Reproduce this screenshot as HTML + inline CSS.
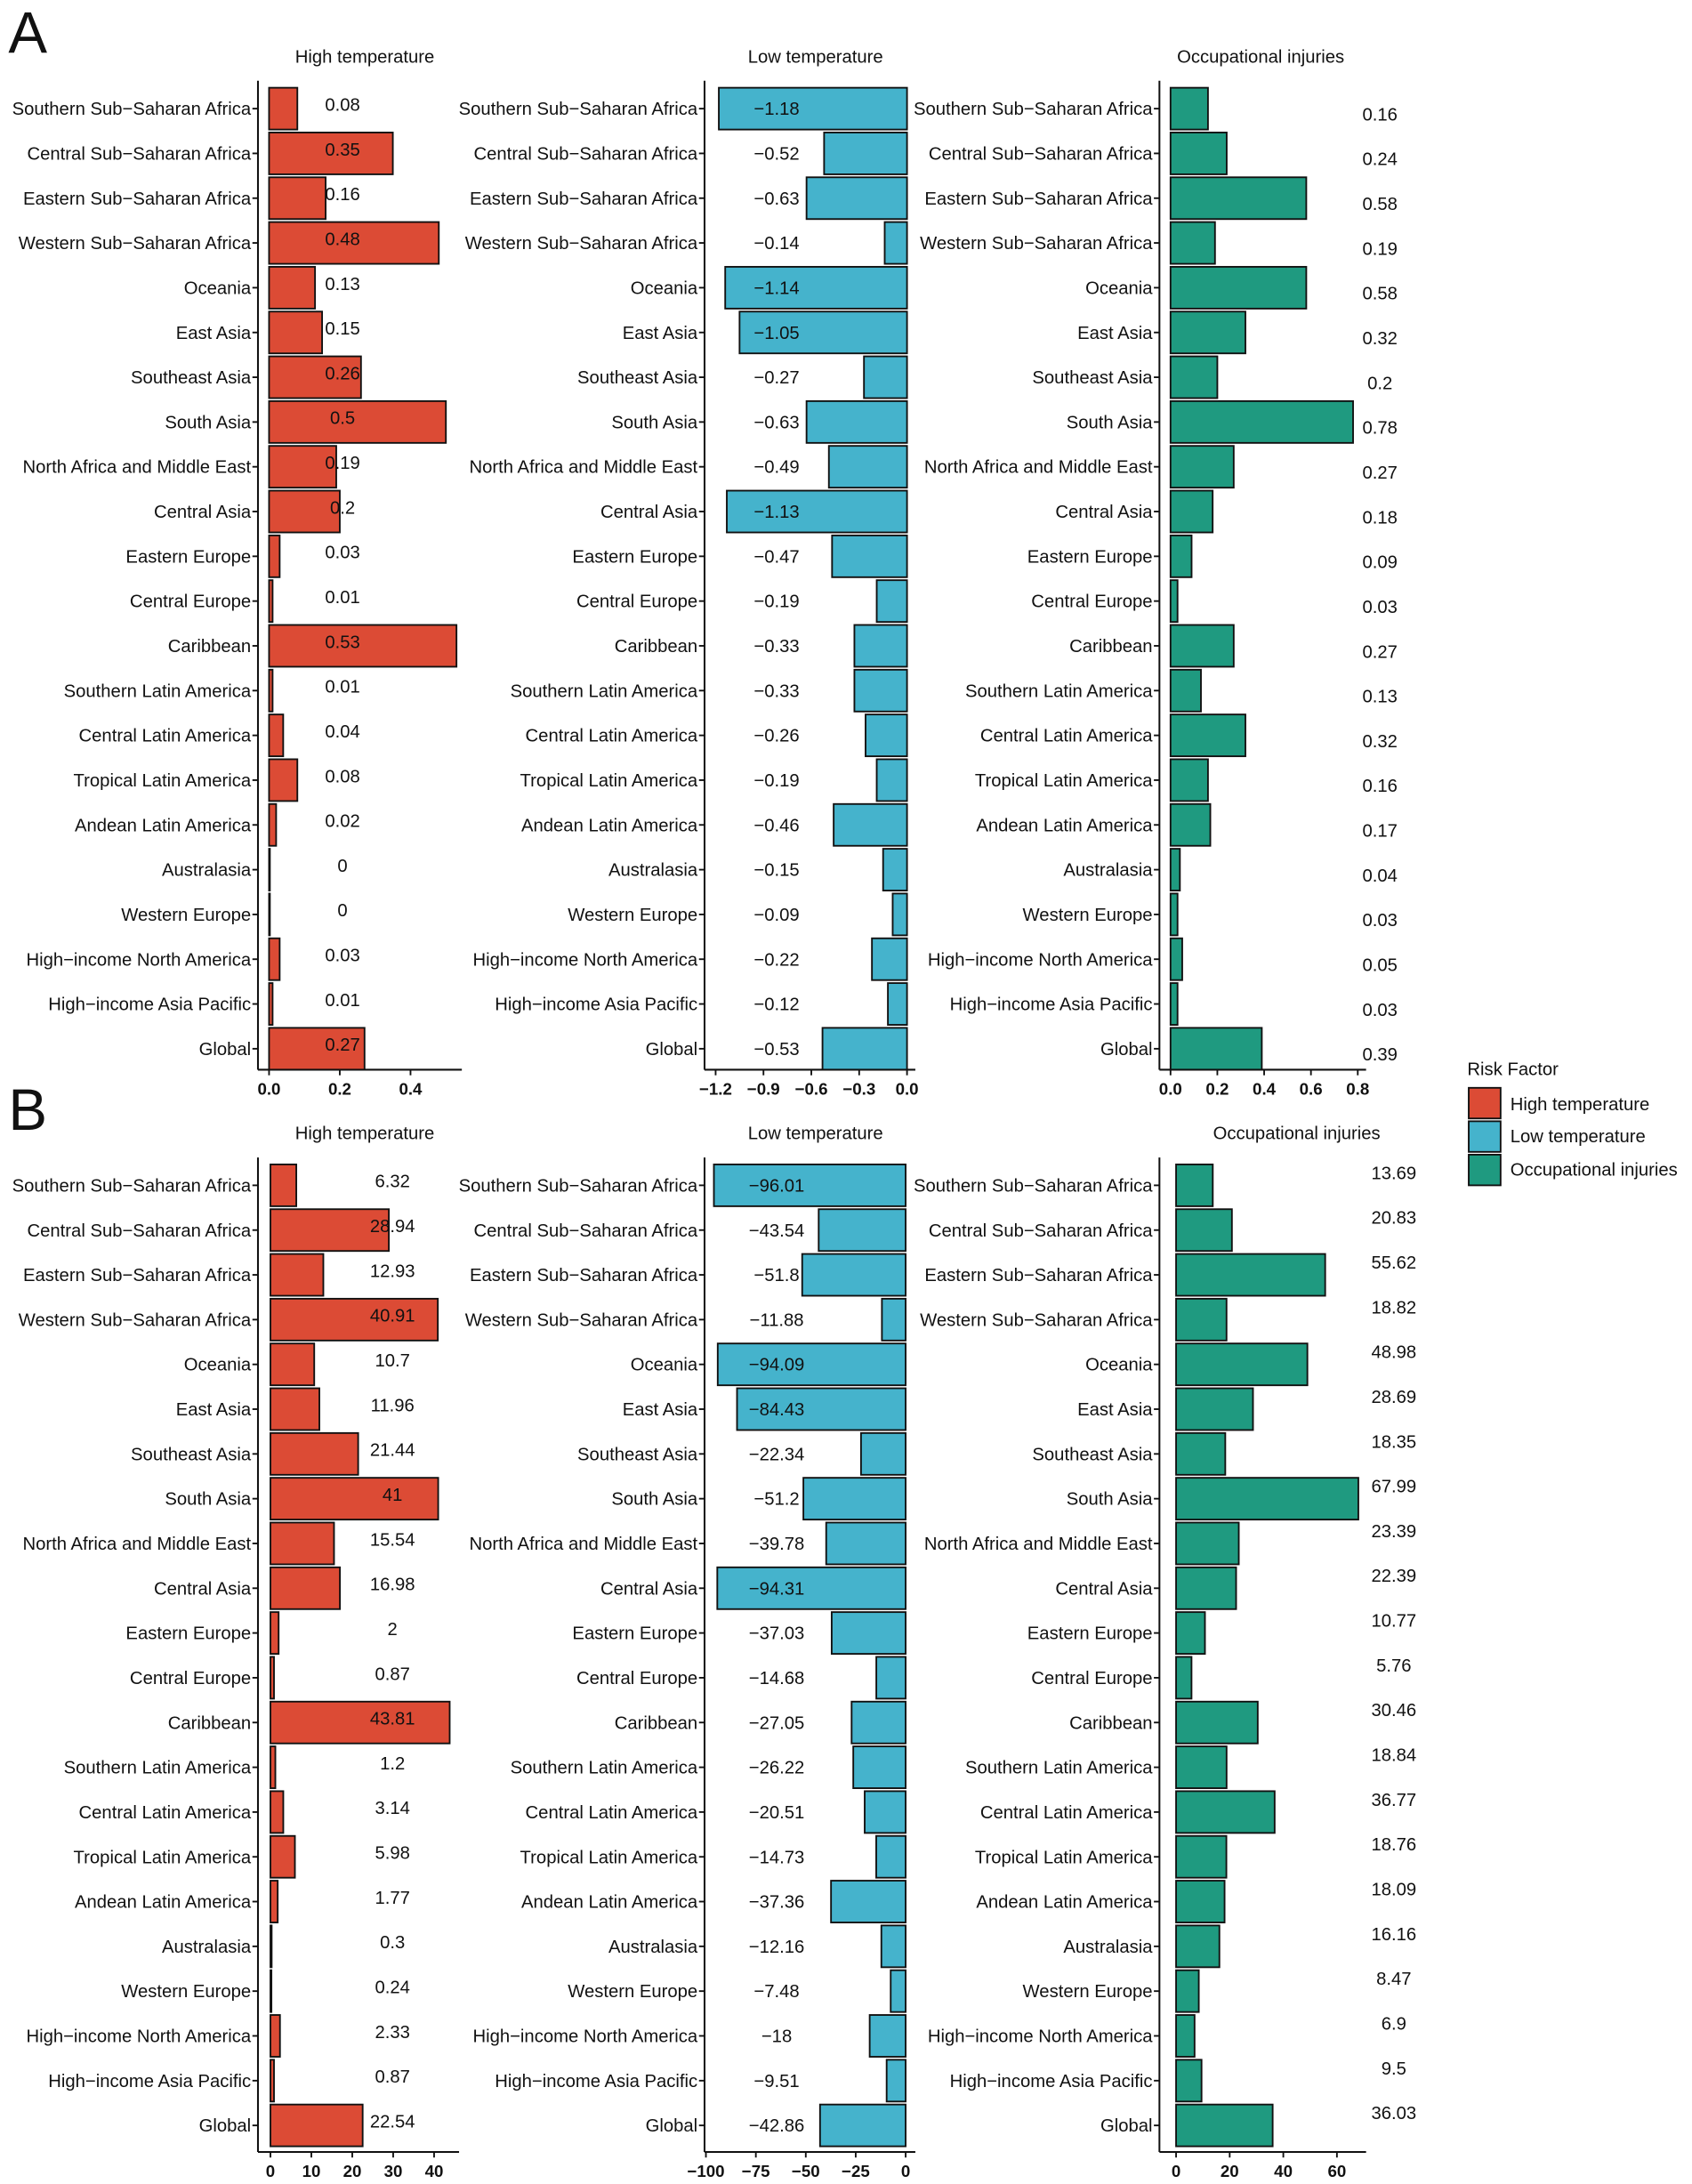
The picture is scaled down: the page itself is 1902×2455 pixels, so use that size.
<!DOCTYPE html>
<html><head><meta charset="utf-8"><style>
html,body{margin:0;padding:0;background:#fff;}
svg{display:block;}
text{font-family:"Liberation Sans",Arial,sans-serif;fill:#111;}
</style></head><body>
<svg id="chart" width="1902" height="2455" viewBox="0 0 1220 1568" preserveAspectRatio="none" xmlns="http://www.w3.org/2000/svg">
<text x="6" y="38" font-size="42">A</text>
<text x="6" y="811" font-size="42">B</text>
<g>
<text x="1058" y="772" font-size="13">Risk Factor</text>
<rect x="1059" y="781" width="23" height="22" fill="#DC4B35" stroke="#111" stroke-width="1.2"/>
<text x="1089" y="797" font-size="13">High temperature</text>
<rect x="1059" y="805" width="23" height="22" fill="#45B3CC" stroke="#111" stroke-width="1.2"/>
<text x="1089" y="820" font-size="13">Low temperature</text>
<rect x="1059" y="829" width="23" height="22" fill="#1F9A80" stroke="#111" stroke-width="1.2"/>
<text x="1089" y="844" font-size="13">Occupational injuries</text>
</g>
</svg>
<script>
const regions = ["Southern Sub\u2212Saharan Africa","Central Sub\u2212Saharan Africa","Eastern Sub\u2212Saharan Africa","Western Sub\u2212Saharan Africa","Oceania","East Asia","Southeast Asia","South Asia","North Africa and Middle East","Central Asia","Eastern Europe","Central Europe","Caribbean","Southern Latin America","Central Latin America","Tropical Latin America","Andean Latin America","Australasia","Western Europe","High\u2212income North America","High\u2212income Asia Pacific","Global"];
const aHigh = [0.08,0.35,0.16,0.48,0.13,0.15,0.26,0.5,0.19,0.2,0.03,0.01,0.53,0.01,0.04,0.08,0.02,0,0,0.03,0.01,0.27];
const aLow = [-1.18,-0.52,-0.63,-0.14,-1.14,-1.05,-0.27,-0.63,-0.49,-1.13,-0.47,-0.19,-0.33,-0.33,-0.26,-0.19,-0.46,-0.15,-0.09,-0.22,-0.12,-0.53];
const aOcc = [0.16,0.24,0.58,0.19,0.58,0.32,0.2,0.78,0.27,0.18,0.09,0.03,0.27,0.13,0.32,0.16,0.17,0.04,0.03,0.05,0.03,0.39];
const bHigh = [6.32,28.94,12.93,40.91,10.7,11.96,21.44,41,15.54,16.98,2,0.87,43.81,1.2,3.14,5.98,1.77,0.3,0.24,2.33,0.87,22.54];
const bLow = [-96.01,-43.54,-51.8,-11.88,-94.09,-84.43,-22.34,-51.2,-39.78,-94.31,-37.03,-14.68,-27.05,-26.22,-20.51,-14.73,-37.36,-12.16,-7.48,-18,-9.51,-42.86];
const bOcc = [13.69,20.83,55.62,18.82,48.98,28.69,18.35,67.99,23.39,22.39,10.77,5.76,30.46,18.84,36.77,18.76,18.09,16.16,8.47,6.9,9.5,36.03];
const ticksAHigh = [0,0.2,0.4], tickLabAHigh = ["0.0","0.2","0.4"];
const ticksALow = [-1.2,-0.9,-0.6,-0.3,0], tickLabALow = ["\u22121.2","\u22120.9","\u22120.6","\u22120.3","0.0"];
const ticksAOcc = [0,0.2,0.4,0.6,0.8], tickLabAOcc = ["0.0","0.2","0.4","0.6","0.8"];
const ticksBHigh = [0,10,20,30,40], tickLabBHigh = ["0","10","20","30","40"];
const ticksBLow = [-100,-75,-50,-25,0], tickLabBLow = ["\u2212100","\u221275","\u221250","\u221225","0"];
const ticksBOcc = [0,20,40,60], tickLabBOcc = ["0","20","40","60"];

const svg = document.getElementById('chart');
const NS = 'http://www.w3.org/2000/svg';
function mk(tag, attrs){const e=document.createElementNS(NS,tag);for(const k in attrs)e.setAttribute(k,attrs[k]);svg.appendChild(e);return e;}
function fmt(v){return String(v).replace('-','\u2212');}

function panel(cfg){
  const {vals,ticks,tlabs,axisX,zeroX,scale,axisEnd,top,xAxisY,title,titleX,color,valX,valDy,name} = cfg;
  const sx = v => zeroX + v*scale;
  const step = 32.14;
  const t = mk('text',{x:titleX,y:top-33,'font-size':13,'text-anchor':'middle'});
  t.textContent = title;
  
  
  const yl = mk('line',{x1:axisX,x2:axisX,y1:top-20,y2:xAxisY,stroke:'#111','stroke-width':1.3});
  
  
  const xl = mk('line',{x1:axisX,x2:axisEnd,y1:xAxisY,y2:xAxisY,stroke:'#111','stroke-width':1.3});
  
  
  ticks.forEach((tv,i)=>{
    const x = sx(tv);
    const tk = mk('line',{x1:x,x2:x,y1:xAxisY,y2:xAxisY+4,stroke:'#111','stroke-width':1.2});
    
    
    const tl = mk('text',{x:x,y:xAxisY+18,'font-size':12,'font-weight':'bold','text-anchor':'middle'});
    tl.textContent = tlabs[i];
    
    
  });
  vals.forEach((v,i)=>{
    const cy = top + i*step;
    const x0 = Math.min(sx(0),sx(v)), w = Math.abs(sx(v)-sx(0));
    const r = mk('rect',{x:x0,y:cy-15,width:Math.max(w,0.6),height:30,fill:color,stroke:'#111','stroke-width':1.2});
    
    
    const tk = mk('line',{x1:axisX-4,x2:axisX,y1:cy,y2:cy,stroke:'#111','stroke-width':1.2});
    
    
    const lab = mk('text',{x:axisX-5,y:cy+4.5,'font-size':13,'text-anchor':'end'});
    lab.textContent = regions[i];
    
    
    const vt = mk('text',{x:valX,y:cy+4.5+valDy,'font-size':13,'text-anchor':'middle'});
    vt.textContent = fmt(v);
    
    
  });
}
const RED='#DC4B35', BLUE='#45B3CC', GREEN='#1F9A80';
panel({name:'a-high',vals:aHigh,ticks:ticksAHigh,tlabs:tickLabAHigh,axisX:186,zeroX:194,scale:255,axisEnd:333,top:78,xAxisY:768,title:'High temperature',titleX:263,color:RED,valX:247,valDy:-3});
panel({name:'a-low',vals:aLow,ticks:ticksALow,tlabs:tickLabALow,axisX:508,zeroX:654,scale:115,axisEnd:660,top:78,xAxisY:768,title:'Low temperature',titleX:588,color:BLUE,valX:560,valDy:0});
panel({name:'a-occ',vals:aOcc,ticks:ticksAOcc,tlabs:tickLabAOcc,axisX:836,zeroX:844,scale:168.75,axisEnd:985,top:78,xAxisY:768,title:'Occupational injuries',titleX:909,color:GREEN,valX:995,valDy:4});
panel({name:'b-high',vals:bHigh,ticks:ticksBHigh,tlabs:tickLabBHigh,axisX:186,zeroX:195,scale:2.95,axisEnd:331,top:851,xAxisY:1545,title:'High temperature',titleX:263,color:RED,valX:283,valDy:-3});
panel({name:'b-low',vals:bLow,ticks:ticksBLow,tlabs:tickLabBLow,axisX:508,zeroX:653,scale:1.44,axisEnd:660,top:851,xAxisY:1545,title:'Low temperature',titleX:588,color:BLUE,valX:560,valDy:0});
panel({name:'b-occ',vals:bOcc,ticks:ticksBOcc,tlabs:tickLabBOcc,axisX:836,zeroX:848,scale:1.933,axisEnd:985,top:851,xAxisY:1545,title:'Occupational injuries',titleX:935,color:GREEN,valX:1005,valDy:-9});
</script>
</body></html>
